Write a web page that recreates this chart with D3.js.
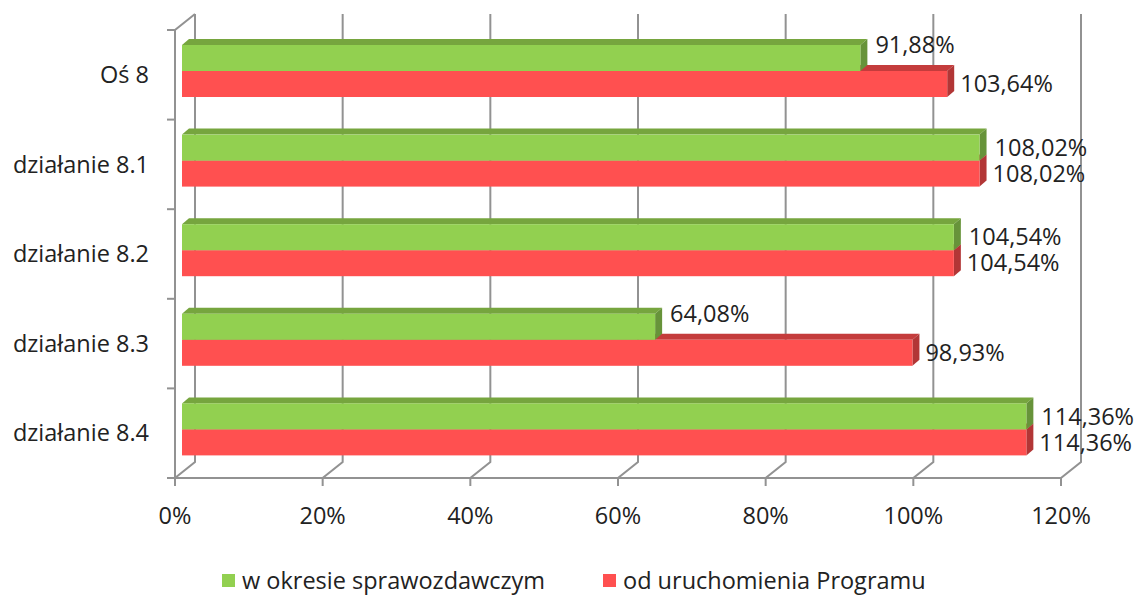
<!DOCTYPE html>
<html><head><meta charset="utf-8">
<script src="https://cdn.jsdelivr.net/npm/d3@7"></script>
<style>body{margin:0;background:#fff}svg text{font-family:"Open Sans",sans-serif;fill:#222}</style>
</head><body><svg id="c" width="1141" height="595"></svg>
<script>
const categories = ["Oś 8","działanie 8.1","działanie 8.2","działanie 8.3","działanie 8.4"];
const seriesNames = ["w okresie sprawozdawczym","od uruchomienia Programu"];
const okres = [91.88,108.02,104.54,64.08,114.36];
const program = [103.64,108.02,104.54,98.93,114.36];
const xTicks = [0,20,40,60,80,100,120];
const fmt = v => d3.format(".2f")(v).replace(".", ",") + "%";

(function(){
const svg = d3.select("#c");
const FS = 23.5;
const pL = 175, pR = 1061, pT = 30, pB = 478;
const DX = 20, DY = -16;       // wall depth
const bdx = 7, bdy = -6;       // bar depth
const bOff = 7;                // bar plane offset from front
const x = d3.scaleLinear().domain([0,120]).range([pL,pR]);
const y = d3.scaleBand().domain(categories).range([pT,pB]);
const grid = "#929292";

xTicks.forEach(t=>{
  const fx = x(t);
  svg.append("polyline").attr("points",`${fx+DX},${pT+DY} ${fx+DX},${pB+DY} ${fx},${pB} ${fx},${pB+8}`)
    .attr("fill","none").attr("stroke",grid).attr("stroke-width",2);
});
svg.append("line").attr("x1",pL).attr("x2",pR).attr("y1",pB).attr("y2",pB).attr("stroke",grid).attr("stroke-width",2);
svg.append("polyline").attr("points",`${pL+DX},${pT+DY} ${pL},${pT} ${pL},${pB}`)
  .attr("fill","none").attr("stroke",grid).attr("stroke-width",2);
d3.range(categories.length+1).forEach(i=>{
  const yy = pT + i*y.step();
  svg.append("line").attr("x1",pL-8).attr("x2",pL).attr("y1",yy).attr("y2",yy).attr("stroke",grid).attr("stroke-width",2);
});

const barH = 26, barTop = 15;
const colors = [{front:"#92D050",top:"#76A53E",side:"#67933A"},{front:"#FF5050",top:"#C43C3C",side:"#B23636"}];
const xb = v => x(v) + bOff;
function bar(yTop, v, c){
  const x0 = xb(0), x1 = xb(v), y0 = yTop, y1 = yTop+barH;
  const g = svg.append("g");
  g.append("polygon").attr("points",`${x0},${y0} ${x0+bdx},${y0+bdy} ${x1+bdx},${y0+bdy} ${x1},${y0}`).attr("fill",c.top);
  g.append("polygon").attr("points",`${x1},${y0} ${x1+bdx},${y0+bdy} ${x1+bdx},${y1+bdy} ${x1},${y1}`).attr("fill",c.side);
  g.append("rect").attr("x",x0).attr("y",y0).attr("width",x1-x0).attr("height",barH).attr("fill",c.front);
}
categories.forEach((cat,i)=>{
  const y0 = y(cat) + barTop;
  bar(y0+barH, program[i], colors[1]);
  bar(y0, okres[i], colors[0]);
});

categories.forEach((cat,i)=>{
  const y0 = y(cat) + barTop;
  const shift = okres[i] < program[i] ? -13 : 0;
  svg.append("text").attr("x",xb(okres[i])+bdx+8).attr("y",y0+barH/2+shift).attr("dy","0.35em")
    .attr("font-size",FS).text(fmt(okres[i]));
  svg.append("text").attr("x",xb(program[i])+bdx+6).attr("y",y0+barH*1.5).attr("dy","0.35em")
    .attr("font-size",FS).text(fmt(program[i]));
});

categories.forEach(cat=>{
  svg.append("text").attr("x",149).attr("y",y(cat)+y.bandwidth()/2).attr("dy","0.35em")
    .attr("text-anchor","end").attr("font-size",FS).text(cat);
});
xTicks.forEach(t=>{
  svg.append("text").attr("x",x(t)).attr("y",516).attr("dy","0.35em").attr("text-anchor","middle")
    .attr("font-size",FS).text(t+"%");
});

const leg = [{x:222,c:colors[0].front,n:seriesNames[0]},{x:603,c:colors[1].front,n:seriesNames[1]}];
leg.forEach(l=>{
  svg.append("rect").attr("x",l.x).attr("y",574).attr("width",13).attr("height",13).attr("fill",l.c);
  svg.append("text").attr("x",l.x+20).attr("y",581).attr("dy","0.35em").attr("font-size",FS).text(l.n);
});
})();
</script></body></html>
